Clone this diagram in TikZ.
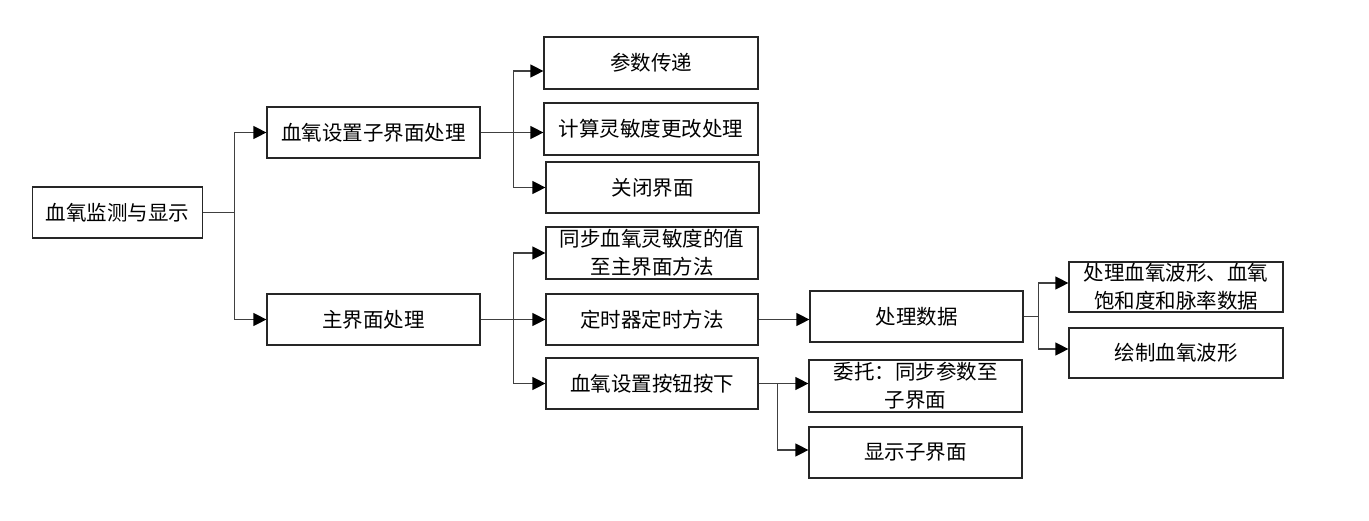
\documentclass[tikz,border=0pt]{standalone}
\usepackage{fontspec}
\newfontfamily\cjk{Noto Sans CJK SC}
\usetikzlibrary{arrows.meta,calc}
\tikzset{
  box/.style={draw=black!85, line width=1.2pt, fill=white, inner sep=0pt, align=center,
    font=\cjk\fontsize{20.5}{28}\selectfont},
  conn/.style={draw=black!75, line width=1.2pt},
  arr/.style={conn, -{Triangle[length=13pt,width=13pt,color=black]}}
}
\begin{document}
\begin{tikzpicture}[x=1pt,y=-1pt]
\useasboundingbox (0,0) rectangle (1369,520);
% nodes
\node[box, minimum width=170pt, minimum height=51pt] (A) at (117.5,212.5) {血氧监测与显示};
\node[box, minimum width=213pt, minimum height=51pt] (B) at (373.5,132.5) {血氧设置子界面处理};
\node[box, minimum width=213pt, minimum height=51pt] (C) at (373.5,319.5) {主界面处理};
\node[box, minimum width=214pt, minimum height=52pt] (D1) at (651,63) {参数传递};
\node[box, minimum width=214pt, minimum height=52pt] (D2) at (651,129) {计算灵敏度更改处理};
\node[box, minimum width=213pt, minimum height=51pt] (D3) at (652.5,187.5) {关闭界面};
\node[box, minimum width=212pt, minimum height=52pt] (E1) at (652,253) {同步血氧灵敏度的值\\至主界面方法};
\node[box, minimum width=212pt, minimum height=51pt] (E2) at (652,319.5) {定时器定时方法};
\node[box, minimum width=212pt, minimum height=51pt] (E3) at (652,383.5) {血氧设置按钮按下};
\node[box, minimum width=213pt, minimum height=51pt] (F) at (916.5,316.5) {处理数据};
\node[box, minimum width=213pt, minimum height=52pt] (G1) at (915.5,386) {委托：同步参数至\\子界面};
\node[box, minimum width=213pt, minimum height=51pt] (G2) at (915.5,452.5) {显示子界面};
\node[box, minimum width=214pt, minimum height=50pt] (H1) at (1176,287) {处理血氧波形、血氧\\饱和度和脉率数据};
\node[box, minimum width=214pt, minimum height=50pt] (H2) at (1176,353) {绘制血氧波形};
% junctions
\coordinate (ja) at ($(A.east)+(31,0)$);
\coordinate (jb) at ($(B.east)+(33,0)$);
\coordinate (jc) at ($(C.east)+(33,0)$);
\coordinate (je) at ($(E3.east)+(19,0)$);
\coordinate (jf) at ($(F.east)+(15,0)$);
% connectors
\draw[conn] (A.east) -- (ja);
\draw[arr] (ja) |- (B.west);
\draw[arr] (ja) |- (C.west);
\draw[arr] (B.east) -- (B.east -| D2.west);
\draw[arr] (jb) |- ($(D1.west)+(0,8)$);
\draw[arr] (jb) |- (D3.west);
\draw[arr] (C.east) -- (C.east -| E2.west);
\draw[arr] (jc) |- (E1.west);
\draw[arr] (jc) |- (E3.west);
\draw[arr] (E2.east) -- (E2.east -| F.west);
\draw[arr] (E3.east) -- (E3.east -| G1.west);
\draw[arr] (je) |- ($(G2.west)+(0,-2.5)$);
\draw[conn] (F.east) -- (jf);
\draw[arr] (jf) |- ($(H1.west)+(0,-4)$);
\draw[arr] (jf) |- ($(H2.west)+(0,-4)$);
\end{tikzpicture}
\end{document}
